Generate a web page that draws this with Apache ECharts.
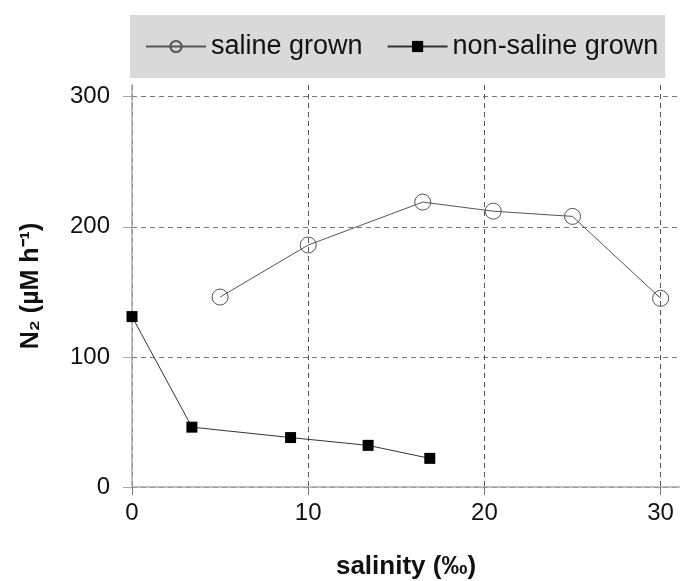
<!DOCTYPE html>
<html>
<head>
<meta charset="utf-8">
<script src="https://cdn.jsdelivr.net/npm/echarts@6/dist/echarts.min.js"></script>
<style>html,body{margin:0;padding:0;background:#fff}#c{width:680px;height:581px}</style>
</head>
<body>
<div id="c"></div>
<script>
// Data
const salineX = [5, 10, 16.5, 20.5, 25, 30];
const salineY = [146, 186, 219, 212, 208, 145];
const nonSalineX = [0, 3.4, 9, 13.4, 16.9];
const nonSalineY = [131, 46, 38, 32, 22];
const xTicks = [0, 10, 20, 30];
const yTicks = [0, 100, 200, 300];
const seriesNames = ['saline grown', 'non-saline grown'];

const FONT = '"Liberation Sans", Arial, sans-serif';
const chart = echarts.init(document.getElementById('c'), null, {renderer: 'canvas'});

const zip = (xs, ys) => xs.map((x, i) => [x, ys[i]]);

chart.setOption({
  animation: false,
  backgroundColor: '#fff',
  textStyle: {fontFamily: FONT},
  grid: {left: 132, right: 0, top: 85, bottom: 94, outerBoundsMode: 'none', containLabel: false},
  legend: {
    left: 130, top: 15,
    backgroundColor: '#d9d9d9',
    padding: [18, 7, 18, 15],
    itemWidth: 60, itemHeight: 14, itemGap: 24,
    textStyle: {fontFamily: FONT, fontSize: 27, color: '#111'},
    data: seriesNames
  },
  xAxis: {
    type: 'value', min: 0, max: 31.1,
    name: 'salinity (‰)', nameLocation: 'middle', nameGap: 67,
    nameTextStyle: {fontFamily: FONT, fontSize: 26, fontWeight: 'bold', color: '#111'},
    axisLine: {show: true, onZero: false, lineStyle: {color: '#aaa', width: 1.5}},
    axisTick: {show: true, customValues: xTicks, length: 8, inside: false, lineStyle: {color: '#777'}},
    axisLabel: {customValues: xTicks, fontSize: 24, color: '#111', margin: 14, fontFamily: FONT},
    splitLine: {show: true, lineStyle: {color: '#555', type: [5, 4], width: 1}}
  },
  yAxis: {
    type: 'value', min: 0, max: 309,
    name: 'N₂ (µM h⁻¹)', nameLocation: 'middle', nameGap: 88, nameRotate: 90,
    nameTextStyle: {fontFamily: FONT, fontSize: 25, fontWeight: 'bold', color: '#111'},
    axisLine: {show: true, onZero: false, lineStyle: {color: '#aaa', width: 1.5}},
    axisTick: {show: true, customValues: yTicks, length: 9, lineStyle: {color: '#aaa'}},
    axisLabel: {customValues: yTicks, fontSize: 24, color: '#111', margin: 22, fontFamily: FONT},
    splitLine: {show: true, lineStyle: {color: '#777', type: [5, 4], width: 1}}
  },
  series: [
    {
      name: seriesNames[0], type: 'line',
      data: zip(salineX, salineY),
      symbol: 'circle', symbolSize: 16,
      itemStyle: {color: 'rgba(0,0,0,0)', borderColor: '#555', borderWidth: 1},
      lineStyle: {color: '#555', width: 1}
    },
    {
      name: seriesNames[1], type: 'line',
      data: zip(nonSalineX, nonSalineY),
      symbol: 'rect', symbolSize: 11,
      itemStyle: {color: '#000'},
      lineStyle: {color: '#333', width: 1}
    }
  ]
});
</script>
</body>
</html>
